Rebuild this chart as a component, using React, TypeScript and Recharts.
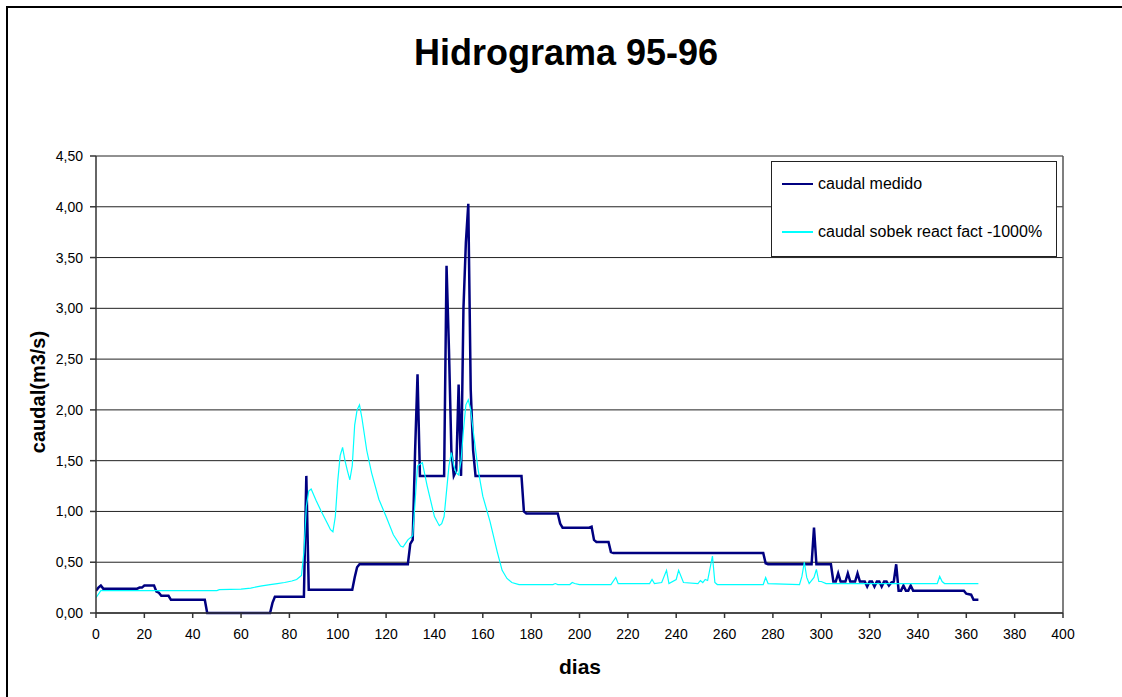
import React from 'react';
import {
	LineChart,
	Line,
	XAxis,
	YAxis,
	CartesianGrid,
	ReferenceLine,
} from 'recharts';

// caudal medido (m3/s) por dia
const medidoDias = [
	0, 1, 2, 3, 17, 18, 19, 20, 24, 25, 26, 27, 30, 31, 45, 46, 72, 73, 74, 86, 87, 88,
	106, 107, 108, 109, 129, 130, 131, 132, 133, 134, 144, 145, 146, 147, 148, 149, 150,
	151, 152, 153, 154, 155, 156, 157, 176, 177, 178, 191, 192, 193, 204, 205, 206, 207,
	212, 213, 214, 276, 277, 278, 296, 297, 298, 304, 305, 306, 307, 308, 310, 311, 312,
	314, 315, 316, 318, 319, 320, 321, 322, 323, 324, 325, 326, 327, 328, 329, 330, 331,
	332, 333, 334, 335, 336, 337, 338, 359, 360, 362, 363, 365,
];
const medidoValores = [
	0.22, 0.25, 0.27, 0.24, 0.24, 0.25, 0.25, 0.27, 0.27, 0.21, 0.2, 0.17, 0.17, 0.13, 0.13,
	0.0, 0.0, 0.1, 0.16, 0.16, 1.35, 0.23, 0.23, 0.35, 0.45, 0.48, 0.48, 0.68, 0.72, 1.6,
	2.35, 1.35, 1.35, 3.42, 2.6, 1.6, 1.35, 1.4, 2.25, 1.35, 3.0, 3.65, 4.03, 2.2, 1.6,
	1.35, 1.35, 1.0, 0.98, 0.98, 0.88, 0.84, 0.84, 0.85, 0.72, 0.7, 0.7, 0.6, 0.59, 0.59,
	0.49, 0.48, 0.48, 0.84, 0.48, 0.48, 0.31, 0.31, 0.39, 0.31, 0.31, 0.39, 0.31, 0.31,
	0.39, 0.31, 0.31, 0.26, 0.31, 0.31, 0.26, 0.31, 0.31, 0.26, 0.31, 0.31, 0.27, 0.3,
	0.31, 0.48, 0.22, 0.22, 0.27, 0.22, 0.22, 0.27, 0.22, 0.22, 0.19, 0.18, 0.13, 0.13,
];

// caudal sobek react fact -1000%
const sobekDias = [
	0, 2, 50, 51, 60, 64, 68, 72, 75, 78, 81, 83, 85, 86, 87, 88, 89, 91, 93, 96, 97, 98,
	99, 100, 101, 102, 103, 104, 105, 106, 107, 108, 109, 110, 112, 114, 117, 120, 123,
	126, 127, 129, 131, 132, 133, 135, 137, 140, 142, 143, 144, 145, 146, 147, 148, 149,
	150, 151, 152, 153, 154, 155, 156, 158, 160, 163, 166, 168, 170, 172, 175, 189, 190,
	191, 196, 197, 198, 200, 213, 215, 216, 229, 230, 231, 234, 236, 237, 240, 241, 243,
	249, 250, 251, 252, 253, 255, 256, 257, 276, 277, 278, 291, 292, 293, 294, 295, 297,
	298, 299, 300, 302, 348, 349, 350, 351, 365,
];
const sobekValores = [
	0.15, 0.22, 0.22, 0.23, 0.235, 0.245, 0.265, 0.28, 0.29, 0.3, 0.315, 0.33, 0.37, 0.6,
	1.05, 1.2, 1.22, 1.11, 1.01, 0.87, 0.82, 0.8, 0.95, 1.3, 1.55, 1.63, 1.5, 1.4, 1.31,
	1.45, 1.85, 2.0, 2.05, 1.92, 1.6, 1.38, 1.12, 0.95, 0.77, 0.66, 0.65, 0.72, 0.76, 1.1,
	1.45, 1.48, 1.25, 0.95, 0.86, 0.88, 0.95, 1.2, 1.45, 1.58, 1.45, 1.38, 1.36, 1.5, 1.8,
	2.05, 2.1, 2.0, 1.8, 1.42, 1.15, 0.9, 0.6, 0.42, 0.34, 0.3, 0.28, 0.28, 0.29, 0.28,
	0.28, 0.3, 0.29, 0.28, 0.28, 0.35, 0.29, 0.29, 0.33, 0.29, 0.3, 0.42, 0.29, 0.33, 0.42,
	0.3, 0.29, 0.32, 0.3, 0.33, 0.32, 0.56, 0.3, 0.28, 0.28, 0.35, 0.29, 0.28, 0.36, 0.5,
	0.35, 0.29, 0.35, 0.43, 0.31, 0.31, 0.29, 0.29, 0.36, 0.31, 0.29, 0.29,
];

const xTicks = [
	0, 20, 40, 60, 80, 100, 120, 140, 160, 180, 200, 220, 240, 260, 280, 300, 320, 340,
	360, 380, 400,
];
const yTicks = [0, 0.5, 1, 1.5, 2, 2.5, 3, 3.5, 4, 4.5];

const medido = medidoDias.map((d, i) => ({ dia: d, caudal: medidoValores[i] }));
const sobek = sobekDias.map((d, i) => ({ dia: d, caudal: sobekValores[i] }));

const font = 'Arial, "Liberation Sans", sans-serif';
const fmt = (v: number) => v.toFixed(2).replace('.', ',');

const LegendBox = () => (
	<div
		style={{
			position: 'absolute',
			left: 771,
			top: 161,
			width: 284,
			height: 94,
			border: '1px solid #222',
			background: '#fff',
			fontFamily: font,
			fontSize: 16,
			color: '#000',
		}}>
		<div style={{ position: 'absolute', left: 10, top: 13, display: 'flex', alignItems: 'center' }}>
			<span style={{ display: 'inline-block', width: 31, height: 2, background: '#000080', marginRight: 5 }} />
			caudal medido
		</div>
		<div style={{ position: 'absolute', left: 10, top: 61, display: 'flex', alignItems: 'center' }}>
			<span style={{ display: 'inline-block', width: 31, height: 2, background: '#00ffff', marginRight: 5 }} />
			caudal sobek react fact -1000%
		</div>
	</div>
);

export default function App() {
	return (
		<div style={{ position: 'absolute', left: 0, top: 0, width: 1122, height: 697, overflow: 'hidden', background: '#fff' }}>
			{/* marco del grafico: solo arriba e izquierda */}
			<div style={{ position: 'absolute', left: 6, top: 6, width: 1116, height: 2, background: '#000' }} />
			<div style={{ position: 'absolute', left: 6, top: 6, width: 2, height: 691, background: '#000' }} />
			<div style={{ position: 'absolute', left: 0, top: 0 }}>
				<LineChart width={1122} height={697} margin={{ top: 156, right: 59, left: 0, bottom: 0 }}>
					<CartesianGrid horizontal vertical={false} stroke="#222" strokeWidth={1} />
					<XAxis
						dataKey="dia"
						type="number"
						domain={[0, 400]}
						ticks={xTicks}
						height={84}
						allowDataOverflow
						stroke="#333"
						strokeWidth={1.5}
						tickSize={5}
						tickMargin={11}
						tick={{ fill: '#000', fontSize: 14, fontFamily: font }}
					/>
					<YAxis
						type="number"
						domain={[0, 4.5]}
						ticks={yTicks}
						width={96}
						stroke="#333"
						strokeWidth={1.5}
						tickSize={6}
						tickMargin={7}
						tickFormatter={fmt}
						tick={{ fill: '#000', fontSize: 14, fontFamily: font }}
					/>
					<ReferenceLine x={400} stroke="#555" strokeWidth={1.5} />
					<Line
						data={medido}
						dataKey="caudal"
						name="caudal medido"
						type="linear"
						stroke="#000080"
						strokeWidth={2.5}
						dot={false}
						isAnimationActive={false}
					/>
					<Line
						data={sobek}
						dataKey="caudal"
						name="caudal sobek react fact -1000%"
						type="linear"
						stroke="#00ffff"
						strokeWidth={1.2}
						dot={false}
						isAnimationActive={false}
					/>
				</LineChart>
			</div>
			<LegendBox />
			<div
				style={{
					position: 'absolute',
					left: 0,
					width: 1132,
					top: 35,
					textAlign: 'center',
					fontFamily: font,
					fontWeight: 'bold',
					fontSize: 36,
					lineHeight: '36px',
				}}>
				Hidrograma 95-96
			</div>
			<div
				style={{
					position: 'absolute',
					left: 38,
					top: 392,
					transform: 'translate(-50%, -50%) rotate(-90deg)',
					fontFamily: font,
					fontWeight: 'bold',
					fontSize: 20,
					whiteSpace: 'nowrap',
				}}>
				caudal(m3/s)
			</div>
			<div
				style={{
					position: 'absolute',
					left: 580,
					top: 667,
					transform: 'translate(-50%, -50%)',
					fontFamily: font,
					fontWeight: 'bold',
					fontSize: 21,
				}}>
				dias
			</div>
		</div>
	);
}
